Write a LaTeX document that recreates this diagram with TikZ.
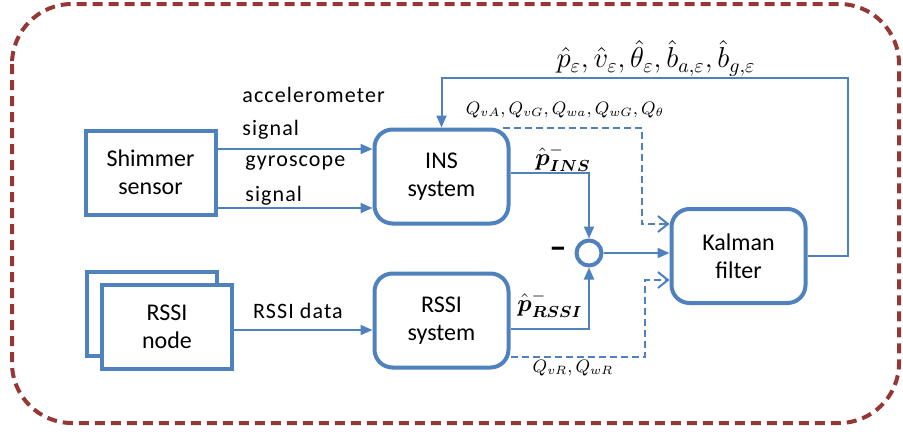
\documentclass[tikz,border=0pt]{standalone}
\usepackage{fontspec}
\setmainfont{Carlito}
\usepackage{amsmath}
\usetikzlibrary{arrows.meta,positioning,calc}
\definecolor{sysBlue}{RGB}{79,129,189}
\definecolor{frameRed}{RGB}{149,55,53}
\tikzset{
  sensor/.style={draw=sysBlue, line width=2pt, fill=white, align=center, minimum width=65pt, minimum height=42pt, font=\large},
  system/.style={draw=sysBlue, line width=2pt, rounded corners=9pt, fill=white, align=center, minimum width=67pt, minimum height=47pt, font=\large},
  sumnode/.style={circle, draw=sysBlue, line width=2pt, minimum size=12.5pt, inner sep=0pt},
  arrow/.style={-{Triangle[length=6pt,width=5pt]}, draw=sysBlue, line width=1pt},
  qarrow/.style={-{Straight Barb[length=5pt,width=8pt]}, draw=sysBlue, line width=1pt, dash pattern=on 3.5pt off 2pt},
  lbl/.style={inner sep=1pt, font=\fontsize{11}{13}\selectfont\addfontfeature{LetterSpace=5}},
  mlbl/.style={inner sep=1pt, font=\large},
  frame/.style={draw=frameRed, line width=2pt, dash pattern=on 5pt off 3pt, rounded corners=30pt}
}

\begin{document}
\begin{tikzpicture}[x=0.5pt, y=-0.5pt]
  \useasboundingbox (0,0) rectangle (903,434);
  \draw[frame] (12,4) rectangle (899,423);

  % blocks
  \node[sensor] (shim) at (150.5,172.5) {Shimmer\\sensor};
  \node[sensor] (nodeb) at (152,314) {};
  \node[sensor] (nodef) at (167,327) {RSSI\\node};
  \node[system] (ins) at (441.5,176.5) {INS\\system};
  \node[system] (rsys) at (441.5,320.5) {RSSI\\system};
  \node[sumnode] (sum) at (589,253) {};
  \node[system] (kal) at (738.5,256) {Kalman\\filter};

  % helper points
  \coordinate (acc) at ([yshift=11.75pt]shim.east);
  \coordinate (gyr) at ([yshift=-17.75pt]shim.east);
  \coordinate (rdat) at ([yshift=-1.5pt]nodef.east);
  \coordinate (qins) at ([yshift=-8.5pt]kal.north west);
  \coordinate (qrs) at ([yshift=12.5pt]kal.south west);
  \coordinate (fbc) at (848,78);

  \draw[arrow] (acc) -- (acc -| ins.west);
  \draw[arrow] (gyr) -- (gyr -| ins.west);
  \draw[arrow] (rdat) -- (rdat -| rsys.west);
  \draw[arrow] ([yshift=1.75pt]ins.east) -| (sum.north);
  \draw[arrow] ([yshift=-4.25pt]rsys.east) -| (sum.south);
  \draw[arrow] (sum.east) -- (sum.east -| kal.west);
  \draw[qarrow] ([xshift=-4pt]ins.north east) -| ([xshift=-14pt]qins) -- (qins);
  \draw[qarrow] ([yshift=-18.25pt]rsys.east) -| ([xshift=-12.5pt]qrs) -- (qrs);
  \draw[arrow] (kal.east) -| (fbc) -| (ins.north);

  % labels
  \node[lbl, anchor=west] (accl) at (240,95) {accelerometer};
  \node[lbl, anchor=west] (accs) at (240,130) {signal};
  \node[lbl, anchor=west] (gyrl) at (243,163) {gyroscope};
  \node[lbl, anchor=west] (gyrs) at (243,196) {signal};
  \node[lbl] (rdl) at (298,311) {RSSI data};
  \node[mlbl] (pins) at (563,158) {$\hat{\boldsymbol{p}}^{-}_{\boldsymbol{INS}}$};
  \node[mlbl] (prssi) at (550,304) {$\hat{\boldsymbol{p}}^{-}_{\boldsymbol{RSSI}}$};
  \node[font=\LARGE\bfseries] (minus) at (558,253) {--};
  \node[mlbl, font=\Large] (est) at (656,58) {$\hat{p}_{\varepsilon},\hat{v}_{\varepsilon},\hat{\theta}_{\varepsilon},\hat{b}_{a,\varepsilon},\hat{b}_{g,\varepsilon}$};
  \node[lbl, font=\small] (qi) at (565,110) {$Q_{vA},Q_{vG},Q_{wa},Q_{wG},Q_{\theta}$};
  \node[lbl, font=\small] (qr) at (573,368) {$Q_{vR},Q_{wR}$};
\end{tikzpicture}
\end{document}
